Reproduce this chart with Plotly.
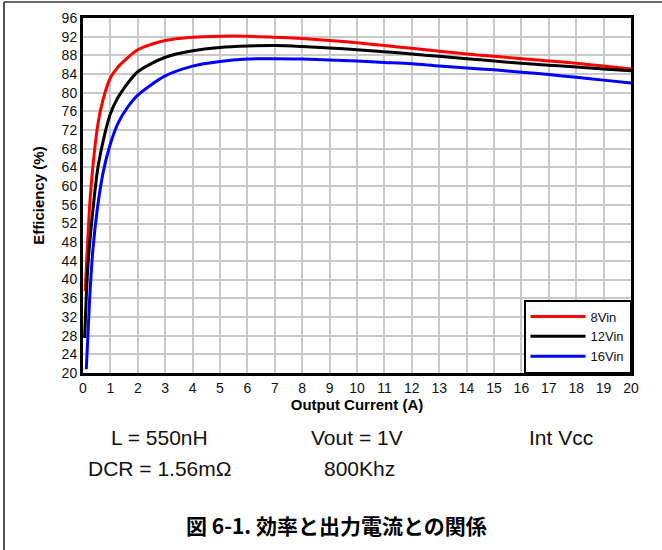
import plotly.graph_objects as go

# ---- data ----
series_names = ["8Vin", "12Vin", "16Vin"]
series_colors = ["#ff0000", "#000000", "#0000ff"]

x_8vin = [0.08, 0.25, 0.36, 0.55, 0.73, 1.0, 1.25, 1.5, 2, 3, 4, 5, 6, 7, 8, 9, 10,
          11, 12, 13, 14, 15, 16, 17, 18, 19, 20]
y_8vin = [37.5, 56.5, 64.2, 73.5, 78.5, 83.2, 85.3, 86.8, 89.2, 91.2, 91.9, 92.1, 92.1,
          91.9, 91.6, 91.2, 90.7, 90.1, 89.5, 88.9, 88.3, 87.8, 87.3, 86.8, 86.3,
          85.7, 85.1]

x_12vin = [0.06, 0.18, 0.4, 0.55, 0.8, 1.0, 1.25, 1.5, 2, 3, 4, 5, 6, 7, 8, 9, 10,
           11, 12, 13, 14, 15, 16, 17, 18, 19, 20]
y_12vin = [27.5, 43.0, 57.0, 64.2, 71.3, 75.5, 78.7, 81.0, 84.5, 87.6, 89.0, 89.7, 90.0,
           90.1, 89.9, 89.6, 89.2, 88.8, 88.3, 87.8, 87.3, 86.8, 86.3, 85.9, 85.5,
           85.1, 84.7]

x_16vin = [0.12, 0.24, 0.36, 0.52, 0.73, 0.97, 1.28, 1.64, 2, 3, 4, 5, 6, 7, 8,
           9, 10, 11, 12, 13, 14, 15, 16, 17, 18, 19, 20]
y_16vin = [20.8, 35.6, 46.3, 55.0, 62.8, 68.5, 73.5, 77.0, 79.5, 83.6, 85.7, 86.7,
           87.2, 87.3, 87.2, 87.0, 86.8, 86.5, 86.2, 85.7, 85.3, 84.9, 84.4, 83.9,
           83.3, 82.7, 82.1]

x_ticks = list(range(0, 21))
y_ticks = list(range(20, 97, 4))

notes = [
    ("L = 550nH", 159, 437),
    ("Vout = 1V", 357, 437),
    ("Int Vcc", 561, 437),
    ("DCR = 1.56mΩ", 160, 468),
    ("800Khz", 359, 468),
]
caption = "図 6-1. 効率と出力電流との関係"

W, H = 662, 550
ML, MR, MT, MB = 83, 31, 18, 177

fig = go.Figure()
for name, color, xs, ys in zip(series_names, series_colors,
                               [x_8vin, x_12vin, x_16vin],
                               [y_8vin, y_12vin, y_16vin]):
    fig.add_trace(go.Scatter(x=xs, y=ys, mode="lines", name=name,
                             line=dict(color=color, width=3, shape="spline",
                                       smoothing=0.8)))

font_main = "Liberation Sans, Arial, sans-serif"

fig.update_layout(
    width=W, height=H,
    margin=dict(l=ML, r=MR, t=MT, b=MB, autoexpand=False),
    paper_bgcolor="white", plot_bgcolor="white",
    font=dict(family=font_main, size=14, color="#111"),
    showlegend=True,
    legend=dict(x=1, y=0, xanchor="right", yanchor="bottom",
                bgcolor="white", bordercolor="black", borderwidth=1.5,
                font=dict(size=13, color="#111"),
                tracegroupgap=0, itemwidth=55),
    xaxis=dict(range=[0, 20], tickvals=x_ticks, ticktext=[str(v) for v in x_ticks],
               showgrid=True, gridcolor="#c8c8c8", gridwidth=2,
               showline=True, linecolor="black", linewidth=3, mirror=True,
               ticks="", zeroline=False, automargin=False,
               title=dict(text="<b>Output Current (A)</b>",
                          font=dict(size=15, color="black"), standoff=2)),
    yaxis=dict(range=[20, 96], tickvals=y_ticks, ticktext=[str(v) for v in y_ticks],
               showgrid=True, gridcolor="#c8c8c8", gridwidth=2,
               showline=True, linecolor="black", linewidth=3, mirror=True,
               ticks="", zeroline=False, automargin=False,
               title=dict(text="<b>Efficiency (%)</b>",
                          font=dict(size=15, color="black"), standoff=14)),
)

def px_x(p):
    return (p - ML) / (W - ML - MR)

def px_y(p):
    return (H - MB - p) / (H - MT - MB)

for text, px, py in notes:
    fig.add_annotation(text=text, xref="paper", yref="paper",
                       x=px_x(px), y=px_y(py),
                       showarrow=False, xanchor="center", yanchor="middle",
                       font=dict(family=font_main, size=21, color="#111"))

fig.add_annotation(text="<b>" + caption + "</b>", xref="paper", yref="paper",
                   x=px_x(336), y=px_y(525),
                   showarrow=False, xanchor="center", yanchor="middle",
                   font=dict(family="Noto Sans CJK JP, " + font_main, size=21,
                             color="black"))

# outer frame (top and left edges)
fig.add_shape(type="line", xref="paper", yref="paper",
              x0=px_x(4), x1=px_x(662), y0=px_y(2), y1=px_y(2),
              line=dict(color="#333", width=1.5))
fig.add_shape(type="line", xref="paper", yref="paper",
              x0=px_x(4), x1=px_x(4), y0=px_y(2), y1=px_y(550),
              line=dict(color="#555", width=2))

fig.write_html("out.html",
               config={"displayModeBar": False},
               post_script="document.body.style.margin='0';"
                           "document.body.style.overflow='hidden';")
